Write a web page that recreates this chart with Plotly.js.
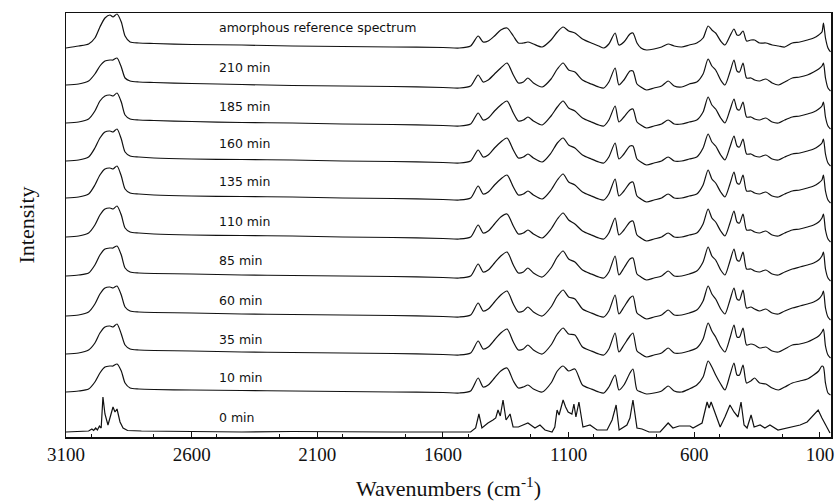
<!DOCTYPE html>
<html><head><meta charset="utf-8">
<script src="https://cdn.plot.ly/plotly-3.0.1.min.js"></script>
<style>html,body{margin:0;padding:0;background:#fff}#chart{width:836px;height:504px}</style>
</head><body><div id="chart"></div>
<script>
// Wavenumber grid for the broad (amorphous-like) spectra, cm-1
const wnB = [3100,3050,3010,2985,2965,2945,2925,2913,2897,2880,
 2865,2845,2810,2750,2600,2400,2200,2000,1800,1600,
 1535,1490,1460,1440,1420,1395,1370,1345,1320,1300,
 1280,1262,1240,1205,1170,1145,1122,1100,1075,1045,
 1010,980,960,940,915,900,880,856,844,828,
 812,790,760,730,704,680,650,620,590,565,
 545,530,515,495,478,458,442,430,420,406,
 392,375,360,340,315,290,265,240,210,180,
 150,125,105,92,86,78,68,58];
// Wavenumber grid for the crystalline (0 min) spectrum
const wnS = [3100,3050,3010,2997,2990,2982,2975,2967,2960,2953,
 2945,2933,2922,2913,2905,2897,2885,2873,2855,2800,
 2600,2400,2200,2000,1800,1600,1540,1490,1470,1457,
 1445,1421,1401,1390,1381,1372,1361,1349,1333,1321,
 1300,1280,1262,1234,1214,1194,1166,1155,1146,1138,
 1122,1112,1102,1087,1079,1071,1059,1043,1015,987,
 947,927,911,899,868,856,844,828,808,780,
 736,704,685,660,617,605,569,549,541,533,
 517,497,478,458,442,426,414,402,390,374,
 362,338,319,299,267,231,207,179,151,131,
 107,92,72,60];

const labels = ["amorphous reference spectrum","210 min","185 min","160 min","135 min","110 min","85 min","60 min","35 min","10 min","0 min"];
// vertical stacking offsets of each spectrum (intensity units)
const offsets = [389,349,311,274,237,198,159,120,82,44,5];

const amorphous = [0,2,4,10,21,30,33,31,34,26,
 12,6,5,4.5,3.5,3,2,1.5,1,0.5,
 0,2,12,6,7,12,18,20,12,5,
 5,6,4,1,8,16,21,17,15,9,
 5,2,0,4,15,3,6,14,15,5,
 0,-2,-1,1,4,2,1,3,5,10,
 22,18,15,7,3,12,19,13,13,17,
 7,8,8,5,5,3,2,1,5,6,
 8,10,13,16,25,10,0,-4];
const min210 = [3,4,7,14,22,27,28,28,30,21,
 10,7,6,5.5,4.5,3.5,2.5,2,1.5,0.5,
 0,2,13,6,8,14,20,25,13,5,
 6,10,5,1,9,19,25,18,16,8,
 4,1,0,6,20,3,8,17,17,4,
 1,-2,0,2,7,2,1,4,6,14,
 29,22,18,8,3,16,28,17,16,25,
 10,10,8,7,9,5,3,6,10,11,
 13,16,19,22,25,10,0,-3];
const min185 = [3,4,7,15,25,30,31,30,33,24,
 11,7,6,5.5,4.5,3.5,3,2,1.5,0.5,
 0,2,13,6,8,15,21,25,13,5,
 6,9,5,1,10,19,25,18,15,8,
 4,1,0,6,20,4,9,16,17,4,
 1,-2,0,2,6,2,2,4,6,14,
 29,21,17,8,3,16,27,17,16,24,
 9,9,7,6,8,4,3,6,9,10,
 12,14,17,20,24,9,0,-3];
const min160 = [2,3,6,15,25,31,32,31,34,24,
 11,7,6,5,4,3.5,3,2,1.5,0.5,
 0,2,13,6,8,15,21,25,13,5,
 6,9,5,1,10,20,25,18,15,8,
 4,1,0,6,20,4,9,17,17,4,
 1,-2,0,2,6,2,2,4,6,15,
 29,21,17,8,3,16,27,17,16,24,
 9,9,7,6,8,4,3,6,9,10,
 12,14,17,20,24,9,0,-3];
const min135 = [2,3,6,15,25,31,32,31,34,24,
 11,7,6,5,4,3.5,3,2,1.5,0.5,
 0,2,14,6,8,15,21,25,13,5,
 6,9,5,1,10,20,26,18,15,8,
 4,1,0,6,21,4,9,17,18,4,
 1,-2,0,2,6,2,2,4,6,15,
 30,21,17,8,3,16,28,17,16,25,
 9,9,7,6,8,4,3,6,9,10,
 12,14,17,20,25,9,0,-3];
const min110 = [2,3,6,14,24,30,31,30,33,24,
 11,7,6,5,4,3.5,3,2,1.5,0.5,
 0,2,14,6,8,15,22,25,13,5,
 6,9,5,1,10,20,26,19,15,8,
 4,1,0,6,21,4,9,17,18,4,
 1,-2,0,2,6,2,2,4,6,15,
 30,21,17,8,3,16,28,17,16,25,
 9,9,7,6,8,4,3,6,9,10,
 12,14,17,21,25,9,0,-3];
const min85 = [2,3,5,13,23,29,30,30,32,23,
 10,6,5,4.5,4,3,2.5,2,1.5,0.5,
 0,2,14,6,8,15,22,26,13,5,
 6,10,5,1,10,21,27,19,16,8,
 4,1,0,6,22,3,10,19,20,4,
 1,-2,0,2,7,2,2,4,7,16,
 31,22,18,8,3,17,29,18,17,26,
 9,9,7,6,8,4,3,6,9,11,
 13,15,18,22,26,9,0,-3];
const min60 = [1,2,5,13,23,29,30,29,31,22,
 10,6,5,4.5,4,3,2.5,2,1.5,0.5,
 0,2,14,6,8,15,22,26,13,5,
 6,10,5,1,10,21,27,20,18,8,
 4,1,0,6,22,3,10,19,21,4,
 1,-2,0,2,7,2,2,4,7,16,
 31,23,18,8,3,17,29,18,17,27,
 9,10,8,6,8,4,3,6,9,11,
 13,15,18,22,26,9,0,-3];
const min35 = [1,2,5,12,22,28,29,28,31,21,
 10,6,5,4.5,4,3,2.5,2,1.5,0.5,
 0,2,14,6,8,15,22,26,13,5,
 6,10,5,1,10,21,27,21,20,8,
 4,1,0,6,22,3,10,19,22,4,
 1,-2,0,2,7,2,2,4,7,16,
 32,24,18,8,3,17,30,18,18,27,
 10,11,10,7,8,4,3,6,10,11,
 13,16,19,23,26,9,0,-3];
const min10 = [1,2,4,11,20,26,27,27,29,22,
 10,5,4,3.5,3,2.5,2,1.5,1,0.5,
 0,2,15,6,8,15,22,25,12,5,
 6,8,4,1,10,22,27,22,24,8,
 4,1,0,6,18,3,8,20,24,3,
 1,-1,0,2,7,2,1,4,8,16,
 32,26,18,9,3,18,30,18,18,28,
 10,12,15,10,9,5,3,6,10,12,
 14,18,22,27,26,10,0,-2];
const min0 = [0,0.5,1,3,1.5,4,2,6,4,35,
 18,7,18,25,20,23,10,4,1.5,1,
 0.5,0,0.5,0,0,0,0,0,4,18,
 4,9,12,14,22,16,32,12,18,5,
 5,7,9,4,7,2,0,5,22,17,
 32,25,20,18,28,15,30,5,7,2,
 2,12,27,2,7,14,32,4,3,0,
 0,9,4,6,6,4,9,30,24,30,
 19,5,15,27,20,15,30,7,4,17,
 5,7,4,7,2,4,5,7,10,15,
 22,14,4,-1];

const series = [amorphous,min210,min185,min160,min135,min110,min85,min60,min35,min10,min0];
const grids  = [wnB,wnB,wnB,wnB,wnB,wnB,wnB,wnB,wnB,wnB,wnS];

const traces = series.map((s,i)=>({
  x: grids[i],
  y: s.map(v=>v+offsets[i]),
  type:'scatter', mode:'lines',
  line:{color:'#111', width:1.2, shape: i===10 ? 'linear' : 'spline', smoothing:0.7},
  hoverinfo:'skip', showlegend:false
}));

const serif = "'Liberation Serif', 'Times New Roman', Times, serif";
const annotations = labels.map((t,i)=>({
  x:2500, y: offsets[i] + 21 - 0.65*i, xref:'x', yref:'y',
  text:t, showarrow:false, xanchor:'left', yanchor:'middle',
  font:{family:"'DejaVu Sans', sans-serif", size:12.5, color:'#111'}
}));

const layout = {
  width:836, height:504,
  margin:{l:66, r:5, t:13, b:67},
  paper_bgcolor:'#fff', plot_bgcolor:'#fff',
  showlegend:false,
  xaxis:{
    range:[3100,56], tick0:100, dtick:500,
    ticks:'inside', ticklen:5, tickwidth:1, tickcolor:'#111',
    minor:{ticks:'inside', ticklen:3, dtick:250, tickcolor:'#111'},
    showline:true, mirror:true, linecolor:'#111', linewidth:1.5,
    showgrid:false, zeroline:false,
    tickfont:{family:serif, size:19, color:'#111'},
    title:{text:'Wavenumbers (cm<sup>-1</sup>)', standoff:16,
      font:{family:serif, size:22, color:'#111'}}
  },
  yaxis:{
    range:[0,424], showticklabels:false, ticks:'',
    showline:true, mirror:true, linecolor:'#111', linewidth:1.5,
    showgrid:false, zeroline:false,
    title:{text:'Intensity', standoff:24,
      font:{family:serif, size:22, color:'#111'}}
  },
  annotations: annotations
};

Plotly.newPlot('chart', traces, layout, {staticPlot:true, displayModeBar:false});
</script></body></html>
